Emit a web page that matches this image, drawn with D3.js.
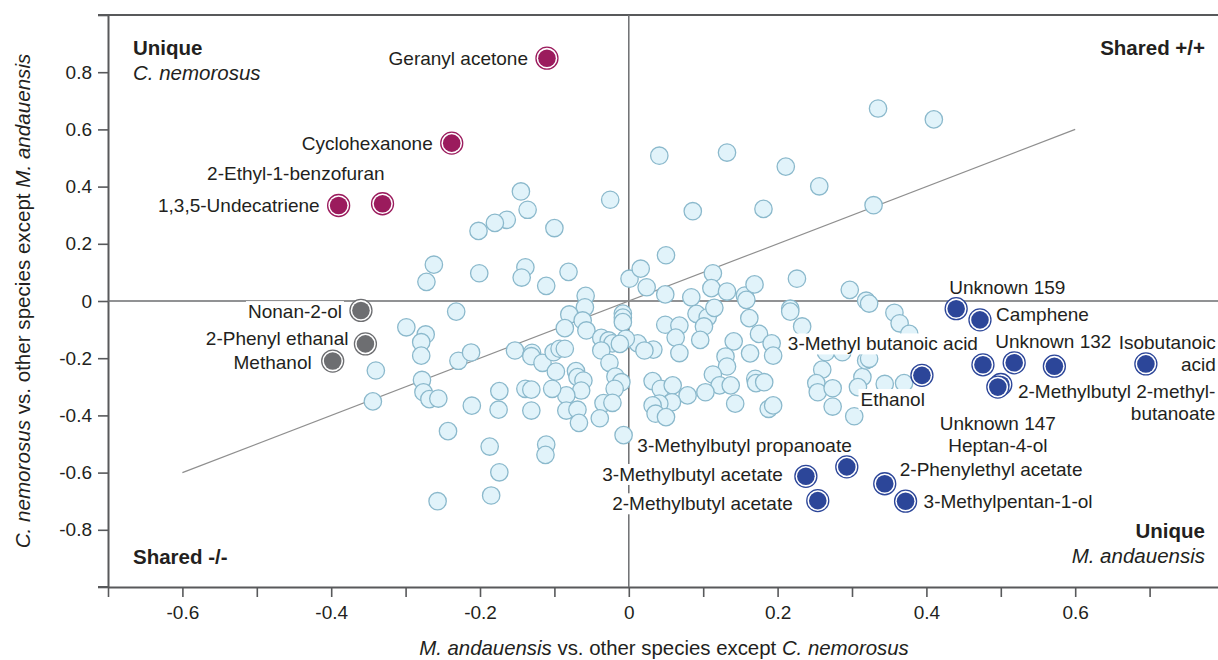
<!DOCTYPE html>
<html lang="en">
<head>
<meta charset="utf-8">
<title>Volatile compounds</title>
<script src="https://d3js.org/d3.v7.min.js"></script>
<style>
  body { margin: 0; background: #fff; }
  svg { display: block; font-family: "Liberation Sans", Arial, sans-serif; }
</style>
</head>
<body>
<div id="chart"></div>
<script>
// background compounds (light blue dots)
var bgX = [-0.145,-0.136,-0.164,-0.180,-0.202,-0.100,-0.025,-0.262,-0.272,-0.201,-0.139,-0.144,-0.111,-0.081,-0.058,
  0.001,0.016,0.024,0.041,0.132,0.211,0.256,0.086,0.181,0.335,0.410,0.329,0.050,0.049,0.084,0.113,0.111,0.132,0.156,
  0.158,0.169,0.226,0.297,0.319,0.323,0.217,0.217,0.233,0.357,0.364,0.377,0.091,0.106,0.115,0.101,0.096,0.049,0.068,
  0.063,0.068,0.012,0.033,0.021,0.162,0.175,0.192,0.194,0.141,0.163,0.130,0.132,0.113,0.122,0.137,0.143,0.170,0.171,
  0.182,0.188,0.194,0.032,0.043,0.059,0.079,0.103,0.058,0.041,0.032,0.036,0.050,0.260,0.252,0.254,0.274,0.274,0.303,
  0.314,0.308,0.319,0.265,0.287,0.344,0.370,0.323,
  -0.232,-0.059,-0.080,-0.008,-0.008,-0.008,-0.299,-0.273,-0.279,-0.279,-0.229,-0.212,-0.278,-0.276,-0.268,-0.256,
  -0.211,-0.174,-0.175,-0.243,-0.187,-0.174,-0.111,-0.112,-0.257,-0.185,-0.153,-0.130,-0.131,-0.116,-0.101,-0.093,
  -0.086,-0.086,-0.062,-0.057,-0.037,-0.027,-0.022,-0.004,-0.012,-0.037,-0.026,-0.098,-0.071,-0.069,-0.061,-0.064,
  -0.084,-0.084,-0.069,-0.067,-0.103,-0.139,-0.131,-0.131,-0.018,-0.010,-0.019,-0.034,-0.022,-0.039,-0.007,-0.340,-0.344];
var bgY = [0.383,0.319,0.284,0.273,0.245,0.255,0.354,0.127,0.067,0.097,0.118,0.082,0.053,0.102,0.018,
  0.078,0.113,0.048,0.508,0.519,0.470,0.401,0.314,0.322,0.673,0.635,0.335,0.160,0.023,0.013,0.097,0.045,0.033,0.019,
  0.004,0.058,0.078,0.039,0.001,-0.009,-0.027,-0.037,-0.089,-0.041,-0.078,-0.115,-0.045,-0.057,-0.024,-0.089,-0.136,-0.083,-0.086,
  -0.128,-0.182,-0.148,-0.170,-0.173,-0.060,-0.115,-0.148,-0.191,-0.141,-0.183,-0.194,-0.229,-0.257,-0.295,-0.295,-0.359,-0.272,-0.287,
  -0.284,-0.377,-0.365,-0.280,-0.307,-0.295,-0.330,-0.319,-0.354,-0.359,-0.365,-0.394,-0.406,-0.240,-0.287,-0.319,-0.305,-0.369,-0.403,
  -0.266,-0.301,-0.208,-0.179,-0.179,-0.290,-0.287,-0.202,
  -0.037,-0.022,-0.047,-0.044,-0.058,-0.074,-0.092,-0.117,-0.144,-0.191,-0.209,-0.180,-0.276,-0.319,-0.343,-0.341,
  -0.366,-0.315,-0.380,-0.455,-0.509,-0.599,-0.502,-0.538,-0.700,-0.680,-0.173,-0.181,-0.193,-0.216,-0.179,-0.167,
  -0.167,-0.095,-0.068,-0.103,-0.129,-0.138,-0.148,-0.132,-0.150,-0.173,-0.216,-0.247,-0.245,-0.266,-0.278,-0.313,
  -0.330,-0.383,-0.380,-0.426,-0.307,-0.307,-0.310,-0.383,-0.264,-0.284,-0.307,-0.357,-0.356,-0.410,-0.469,-0.243,-0.351];

// named compounds
var hlNames = ["Geranyl acetone","Cyclohexanone","2-Ethyl-1-benzofuran","1,3,5-Undecatriene",
  "Nonan-2-ol","2-Phenyl ethanal","Methanol",
  "Unknown 159","Camphene","3-Methyl butanoic acid","Unknown 132","2-Methylbutyl 2-methylbutanoate","Isobutanoic acid",
  "Unknown 147","Heptan-4-ol","Ethanol","3-Methylbutyl propanoate","3-Methylbutyl acetate","2-Methylbutyl acetate",
  "2-Phenylethyl acetate","3-Methylpentan-1-ol"];
var hlX = [-0.110,-0.238,-0.331,-0.390, -0.360,-0.354,-0.398,
  0.440,0.472,0.476,0.518,0.572,0.695, 0.500,0.496,0.394,0.293,0.238,0.254, 0.344,0.372];
var hlY = [0.849,0.552,0.340,0.334, -0.033,-0.150,-0.210,
  -0.027,-0.066,-0.223,-0.216,-0.228,-0.220, -0.292,-0.301,-0.260,-0.580,-0.613,-0.698, -0.639,-0.700];
var hlGroup = ["cn","cn","cn","cn", "neg","neg","neg",
  "ma","ma","ma","ma","ma","ma","ma","ma","ma","ma","ma","ma","ma","ma"];

var diagX = [-0.6, 0.6];
var diagY = [-0.6, 0.6];

var xTicks = [-0.7,-0.6,-0.5,-0.4,-0.3,-0.2,-0.1,0,0.1,0.2,0.3,0.4,0.5,0.6,0.7];
var xTickLabels = ["","-0.6","","-0.4","","-0.2","","0","","0.2","","0.4","","0.6",""];
var yTicks = [-1,-0.8,-0.6,-0.4,-0.2,0,0.2,0.4,0.6,0.8,1];
var yTickLabels = ["","-0.8","-0.6","-0.4","-0.2","0","0.2","0.4","0.6","0.8",""];

var W = 1218, H = 660;
var ink = "#231f20", axisCol = "#58595b";
var colors = { cn: "#9b1b5d", neg: "#6d6e71", ma: "#2c4699" };

var x = d3.scaleLinear().domain([-0.7, 0.8]).range([108, 1224]);
var y = d3.scaleLinear().domain([-1, 1]).range([587, 15]);

var svg = d3.select("#chart").append("svg")
  .attr("width", W).attr("height", H);

// axes
var gx = svg.append("g").attr("transform", "translate(0," + y(-1) + ")")
  .call(d3.axisBottom(x).tickValues(xTicks).tickFormat(function(d, i) { return xTickLabels[i]; })
    .tickSizeOuter(0).tickSizeInner(10).tickPadding(9));
var gy = svg.append("g").attr("transform", "translate(" + x(-0.7) + ",0)")
  .call(d3.axisLeft(y).tickValues(yTicks).tickFormat(function(d, i) { return yTickLabels[i]; })
    .tickSizeOuter(0).tickSizeInner(10).tickPadding(6));
[gx, gy].forEach(function(g) {
  g.select(".domain").attr("stroke", axisCol).attr("stroke-width", 2);
  g.selectAll(".tick line").attr("stroke", axisCol).attr("stroke-width", 1.6);
  g.selectAll(".tick text").attr("fill", ink).attr("font-size", 19)
    .attr("font-family", "Liberation Sans, Arial, sans-serif");
});
// bottom axis extends left to the y tick end
svg.append("line").attr("x1", x(-0.7) - 10).attr("x2", x(-0.7)).attr("y1", y(-1)).attr("y2", y(-1))
  .attr("stroke", axisCol).attr("stroke-width", 2);
// top frame line
svg.append("line").attr("x1", x(-0.7) - 10).attr("x2", W).attr("y1", y(1)).attr("y2", y(1))
  .attr("stroke", axisCol).attr("stroke-width", 2);

// zero lines
svg.append("line").attr("x1", x(0)).attr("x2", x(0)).attr("y1", y(1)).attr("y2", y(-1))
  .attr("stroke", "#6d6e71").attr("stroke-width", 1.5);
svg.append("line").attr("x1", x(-0.7)).attr("x2", W).attr("y1", y(0)).attr("y2", y(0))
  .attr("stroke", "#6d6e71").attr("stroke-width", 1.5);

// diagonal
svg.append("line").attr("x1", x(diagX[0])).attr("y1", y(diagY[0]))
  .attr("x2", x(diagX[1])).attr("y2", y(diagY[1]))
  .attr("stroke", "#8f8f8f").attr("stroke-width", 1.2);

// background dots
svg.append("g").selectAll("circle")
  .data(bgX.map(function(v, i) { return [v, bgY[i]]; }))
  .enter().append("circle")
  .attr("cx", function(d) { return x(d[0]); })
  .attr("cy", function(d) { return y(d[1]); })
  .attr("r", 8.7)
  .attr("fill", "#e1f3fa")
  .attr("stroke", "#8bb9cc")
  .attr("stroke-width", 1.3);

// label placement: [dx, dy, anchor, lines]
var labelPlace = {
  "Geranyl acetone": [-19, 0, "end"],
  "Cyclohexanone": [-19, 0, "end"],
  "2-Ethyl-1-benzofuran": [2, -30, "end"],
  "1,3,5-Undecatriene": [-19, 0, "end"],
  "Nonan-2-ol": [-19, 1, "end"],
  "2-Phenyl ethanal": [-17, -6, "end"],
  "Methanol": [-21, 1, "end"],
  "Unknown 159": [-7, -21, "start"],
  "Camphene": [16, -6, "start"],
  "3-Methyl butanoic acid": [-5, -21, "end"],
  "Unknown 132": [-19, -21, "start"],
  "2-Methylbutyl 2-methylbutanoate": [161, 25, "end", ["2-Methylbutyl 2-methyl-", "butanoate"]],
  "Isobutanoic acid": [70, -22, "end", ["Isobutanoic", "acid"]],
  "Unknown 147": [-3, 39, "middle"],
  "Heptan-4-ol": [0, 58, "middle"],
  "Ethanol": [3, 24, "end"],
  "3-Methylbutyl propanoate": [5, -22, "end"],
  "3-Methylbutyl acetate": [-23, -2, "end"],
  "2-Methylbutyl acetate": [-25, 3, "end"],
  "2-Phenylethyl acetate": [15, -14, "start"],
  "3-Methylpentan-1-ol": [18, 0, "start"]
};

var labels = svg.append("g");
hlNames.forEach(function(name, i) {
  var p = labelPlace[name];
  var lines = p[3] || [name];
  var g = labels.append("g");
  var t = g.append("text")
    .attr("x", x(hlX[i]) + p[0])
    .attr("y", y(hlY[i]) + p[1])
    .attr("text-anchor", p[2])
    .attr("font-size", 19)
    .attr("fill", ink);
  lines.forEach(function(s, k) {
    t.append("tspan").attr("x", x(hlX[i]) + p[0]).attr("dy", k == 0 ? "0.35em" : 22).text(s);
  });
  var b = t.node().getBBox();
  g.insert("rect", "text").attr("x", b.x - 2).attr("y", b.y).attr("width", b.width + 4).attr("height", b.height)
    .attr("fill", "#fff");
});

// highlighted dots
var hl = svg.append("g").selectAll("g")
  .data(hlNames.map(function(n, i) { return { x: hlX[i], y: hlY[i], g: hlGroup[i] }; }))
  .enter().append("g")
  .attr("transform", function(d) { return "translate(" + x(d.x) + "," + y(d.y) + ")"; });
hl.append("circle").attr("r", 11).attr("fill", "#fff")
  .attr("stroke", function(d) { return colors[d.g]; }).attr("stroke-width", 1.3);
hl.append("circle").attr("r", 8.8).attr("fill", function(d) { return colors[d.g]; });

// quadrant captions
function caption(px, py, anchor, bold, italic) {
  svg.append("text").attr("x", px).attr("y", py).attr("dy", "0.35em")
    .attr("text-anchor", anchor).attr("font-size", 20.5).attr("fill", ink)
    .attr("font-weight", bold ? "bold" : "normal")
    .attr("font-style", italic ? "italic" : "normal")
    .text(bold || italic);
}
caption(x(-0.7) + 25, 48, "start", "Unique");
caption(x(-0.7) + 25, 73, "start", null, "C. nemorosus");
caption(1205, 48, "end", "Shared +/+");
caption(x(-0.7) + 25, 557, "start", "Shared -/-");
caption(1205, 531, "end", "Unique");
caption(1205, 556, "end", null, "M. andauensis");

// axis titles
var xt = svg.append("text").attr("x", 664).attr("y", 655)
  .attr("text-anchor", "middle").attr("font-size", 20.4).attr("fill", ink);
xt.append("tspan").attr("font-style", "italic").text("M. andauensis");
xt.append("tspan").text(" vs. other species except ");
xt.append("tspan").attr("font-style", "italic").text("C. nemorosus");

var yt = svg.append("text").attr("transform", "translate(23,301) rotate(-90)").attr("dy", "0.35em")
  .attr("text-anchor", "middle").attr("font-size", 20.6).attr("fill", ink);
yt.append("tspan").attr("font-style", "italic").text("C. nemorosus");
yt.append("tspan").text(" vs. other species except ");
yt.append("tspan").attr("font-style", "italic").text("M. andauensis");
</script>
</body>
</html>
